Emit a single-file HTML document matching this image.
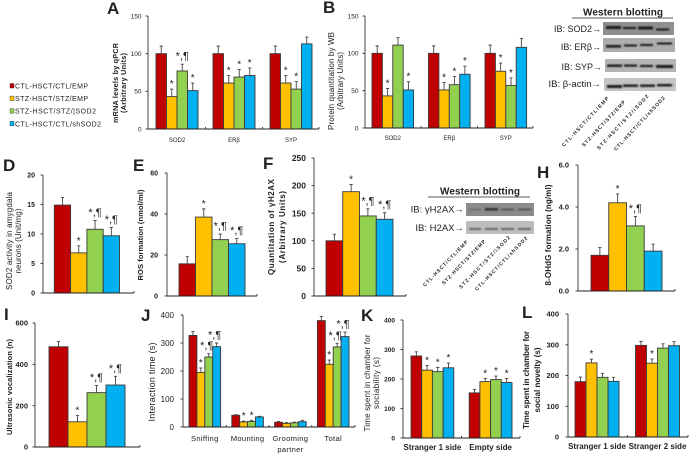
<!DOCTYPE html>
<html lang="en">
<head>
<meta charset="utf-8">
<title>Western blotting and behaviour bar charts</title>
<style>
html,body{margin:0;padding:0;background:#fff;}
#figure{display:block;width:690px;height:456px;filter:blur(0.35px);}
text{font-family:"Liberation Sans",Arial,sans-serif;fill:#222;}
</style>
</head>
<body>
<svg id="figure" xmlns="http://www.w3.org/2000/svg" width="690" height="456" viewBox="0 0 690 456">
  <defs>
    <filter id="bandBlur" x="-20%" y="-80%" width="140%" height="260%"><feGaussianBlur stdDeviation="0.7"/></filter>
  </defs>
  <g id="legend"></g>
  <g id="charts"></g>

  <g>
    <text x="583" y="15.500" font-size="10" font-weight="bold" textLength="80" fill="#111">Western blotting</text>
    <line x1="572" y1="18" x2="673" y2="18" stroke="#222" stroke-width="0.8"/>
    <text x="601" y="32" font-size="9" text-anchor="end" fill="#222">IB: SOD2→</text>
    <text x="601" y="50" font-size="9" text-anchor="end">IB: ERβ→</text>
    <text x="602" y="70" font-size="9" text-anchor="end">IB: SYP→</text>
    <text x="601" y="87" font-size="9.500" text-anchor="end">IB: β-actin→</text>
    <rect x="603" y="22" width="71" height="13" fill="#8f8f8f"/>
    <rect x="603" y="38" width="72" height="14" fill="#adadad"/>
    <rect x="605" y="59" width="71" height="13" fill="#b4b4b4"/>
    <rect x="604" y="78" width="72" height="13" fill="#c4c4c4"/>
    <g fill="#1c1c1c" filter="url(#bandBlur)">
      <rect x="606" y="26" width="15" height="3"/><rect x="623" y="27" width="13" height="2"/><rect x="638" y="26.500" width="15" height="3"/><rect x="656" y="28.500" width="13" height="2"/>
      <rect x="606" y="45" width="15" height="2.600"/><rect x="624" y="44.500" width="13" height="2"/><rect x="640" y="44" width="13" height="2"/><rect x="657" y="42.500" width="15" height="2"/>
      <rect x="607" y="64.500" width="15" height="2.400"/><rect x="624" y="64.500" width="13" height="2.200"/><rect x="640" y="65" width="13" height="2"/><rect x="656" y="65" width="17" height="3"/>
      <rect x="607" y="85" width="15" height="3"/><rect x="623" y="84.500" width="15" height="2.400"/><rect x="640" y="84.500" width="15" height="2.400"/><rect x="657" y="84" width="15" height="2.400"/>
    </g>
    <text transform="translate(564 147) rotate(-47)" font-size="5" font-weight="bold" fill="#5b3a1c" textLength="66">CTL-HSCT/CTL/EMP</text>
    <text transform="translate(584 147) rotate(-47)" font-size="5" font-weight="bold" fill="#5b3a1c" textLength="61">STZ-HSCT/STZ/EMP</text>
    <text transform="translate(599 150) rotate(-47)" font-size="5" font-weight="bold" fill="#5b3a1c" textLength="73">STZ-HSCT/STZ/iSOD2</text>
    <text transform="translate(616 151) rotate(-47)" font-size="5" font-weight="bold" fill="#5b3a1c" textLength="72">CTL-HSCT/CTL/shSOD2</text>
  </g>

  <g>
    <text x="440" y="194.500" font-size="10" font-weight="bold" textLength="80" fill="#111">Western blotting</text>
    <line x1="428" y1="197" x2="530" y2="197" stroke="#222" stroke-width="0.8"/>
    <text x="464" y="212.500" font-size="9.500" text-anchor="end">IB: γH2AX→</text>
    <text x="464" y="231" font-size="9.500" text-anchor="end">IB: H2AX→</text>
    <rect x="466" y="203" width="68" height="13" fill="#8b8b8b"/>
    <rect x="466" y="221" width="68" height="13" fill="#bdbdbd"/>
    <g fill="#333" filter="url(#bandBlur)">
      <rect x="469" y="209" width="12" height="1.500" fill="#666"/><rect x="485" y="208" width="13" height="2.600"/><rect x="501" y="208.500" width="13" height="2" fill="#555"/><rect x="518" y="208.500" width="13" height="2" fill="#555"/>
      <rect x="469" y="228" width="12" height="2" fill="#666"/><rect x="485" y="228" width="13" height="2" fill="#666"/><rect x="501" y="228" width="13" height="2" fill="#666"/><rect x="518" y="228" width="13" height="2" fill="#666"/>
    </g>
    <text transform="translate(425 287) rotate(-46)" font-size="5" font-weight="bold" fill="#5b3a1c" textLength="62">CTL-HSCT/CTL/EMP</text>
    <text transform="translate(444 285) rotate(-46)" font-size="5" font-weight="bold" fill="#5b3a1c" textLength="60">STZ-HSCT/STZ/EMP</text>
    <text transform="translate(461 289) rotate(-46)" font-size="5" font-weight="bold" fill="#5b3a1c" textLength="71">STZ-HSCT/STZ/iSOD2</text>
    <text transform="translate(477 291) rotate(-46)" font-size="5" font-weight="bold" fill="#5b3a1c" textLength="73">CTL-HSCT/CTL/shSOD2</text>
  </g>
</svg>

<script>
// Shared
const seriesColors = ['#c00000', '#ffc000', '#92d050', '#00b0f0'];
const legendLabels = ['CTL-HSCT/CTL/EMP', 'STZ-HSCT/STZ/EMP', 'STZ-HSCT/STZ/|SOD2', 'CTL-HSCT/CTL/shSOD2'];

// Panel A
const aCategories = ['SOD2', 'ERβ', 'SYP'];
const aTicks = [0, 50, 100, 150];
const aSod2 = [100, 43, 77, 51];
const aErb = [100, 61, 69, 71];
const aSyp = [100, 61, 53, 113];
const aSod2Err = [10, 10, 9, 10];
const aErbErr = [10, 10, 10, 10];
const aSypErr = [10, 10, 10, 9];
const aSod2Marks = ['', '*', '*,¶', '*'];
const aErbMarks = ['', '*', '*', '*'];
const aSypMarks = ['', '*', '*', ''];

// Panel B
const bCategories = ['SOD2', 'ERβ', 'SYP'];
const bTicks = [0, 50, 100, 150];
const bSod2 = [100, 43, 111, 51];
const bErb = [100, 51, 58, 72];
const bSyp = [100, 76, 57, 108];
const bSod2Err = [10, 10, 10, 11];
const bErbErr = [10, 10, 11, 11];
const bSypErr = [11, 11, 10, 12];
const bSod2Marks = ['', '*', '', '*'];
const bErbMarks = ['', '*', '*', '*'];
const bSypMarks = ['', '*', '*', ''];

// Panel D
const dTicks = [0, 5, 10, 15, 20];
const dValues = [14.9, 6.8, 10.8, 9.7];
const dErr = [1.3, 1.2, 1.5, 1.4];
const dMarks = ['', '*', '*,¶', '*,¶'];

// Panel E
const eTicks = [0, 20, 40, 60];
const eValues = [15.7, 38.5, 27.5, 25.5];
const eErr = [3.5, 4, 2.7, 2.5];
const eMarks = ['', '*', '*,¶', '*,¶'];

// Panel F
const fTicks = [0, 50, 100, 150, 200, 250];
const fValues = [100, 189, 145, 139];
const fErr = [12, 13, 13, 12];
const fMarks = ['', '*', '*,¶', '*,¶'];

// Panel H
const hTicks = ['0.0', '2.0', '4.0', '6.0'];
const hValues = [1.7, 4.2, 3.1, 1.9];
const hErr = [0.37, 0.42, 0.45, 0.33];
const hMarks = ['', '*', '*,¶', ''];

// Panel I
const iTicks = [0, 200, 400, 600];
const iValues = [485, 122, 263, 300];
const iErr = [25, 30, 35, 42];
const iMarks = ['', '*', '*,¶', '*,¶'];

// Panel J
const jCategories = ['Sniffing', 'Mounting', 'Grooming|partner', 'Total'];
const jTicks = [0, 100, 200, 300, 400];
const jSniffing = [327, 195, 250, 287];
const jMounting = [42, 18, 20, 36];
const jGrooming = [17, 13, 15, 19];
const jTotal = [380, 224, 286, 323];
const jSniffingErr = [14, 16, 12, 13];
const jMountingErr = [2, 3, 4, 2];
const jGroomingErr = [3, 3, 2, 5];
const jTotalErr = [15, 15, 13, 16];
const jSniffingMarks = ['', '*', '*,¶', '*,¶'];
const jMountingMarks = ['', '*', '*', ''];
const jGroomingMarks = ['', '', '', ''];
const jTotalMarks = ['', '*', '*,¶', '*,¶'];

// Panel K
const kCategories = ['Stranger 1 side', 'Empty side'];
const kTicks = [0, 100, 200, 300, 400];
const kStranger = [278, 230, 225, 238];
const kEmpty = [153, 191, 198, 188];
const kStrangerErr = [14, 16, 14, 16];
const kEmptyErr = [12, 11, 12, 14];
const kStrangerMarks = ['', '*', '*', '*'];
const kEmptyMarks = ['', '*', '*', '*'];

// Panel L
const lCategories = ['Stranger 1 side', 'Stranger 2 side'];
const lTicks = [0, 100, 200, 300, 400];
const lStranger1 = [180, 241, 194, 181];
const lStranger2 = [298, 240, 289, 297];
const lStranger1Err = [15, 12, 13, 13];
const lStranger2Err = [13, 14, 14, 13];
const lStranger1Marks = ['', '*', '', ''];
const lStranger2Marks = ['', '*', '', ''];

const NS = 'http://www.w3.org/2000/svg';
const chartsRoot = document.getElementById('charts');
const legendRoot = document.getElementById('legend');

function svgEl(tag, attrs, parent, text) {
  const el = document.createElementNS(NS, tag);
  for (const k in attrs) el.setAttribute(k, attrs[k]);
  if (text !== undefined) el.textContent = text;
  parent.appendChild(el);
  return el;
}

function drawPanel(p) {
  const root = svgEl('g', {}, chartsRoot);
  
  

  const letter = svgEl('text', {x: p.letter[0], y: p.letter[1], 'font-size': 17, 'font-weight': 'bold', fill: '#111'}, root, p.id);
  
  

  const ticks = p.ticks.map(Number);
  const yMax = Math.max.apply(null, ticks);
  const yScale = v => p.y0 - v / yMax * (p.y0 - p.yTop);
  const xBar = (g, s) => p.x0 + g * p.step + s * p.w;

  // bars, error bars and significance marks
  p.groups.forEach((vals, g) => {
    vals.forEach((v, s) => {
      const cx = xBar(g, s) + p.w / 2;
      const top = yScale(v + p.errs[g][s]);
      const err = svgEl('path', {d: 'M' + cx + ' ' + yScale(v) + 'V' + top + 'M' + (cx - 1.6) + ' ' + top + 'H' + (cx + 1.6), stroke: '#444', 'stroke-width': 0.9, fill: 'none'}, root);
      
      
      const bar = svgEl('rect', {x: xBar(g, s), y: yScale(v), width: p.w, height: p.y0 - yScale(v), fill: seriesColors[s], stroke: '#3a3a3a', 'stroke-width': 0.9}, root);
      
      
      const m = p.marks[g][s];
      if (m) {
        const single = m === '*';
        const mark = svgEl('text', {x: cx - (single ? 0 : (p.markDx || 0)), y: top - (single ? 2 : 4.5), 'font-size': single ? 10 : 11, 'text-anchor': 'middle', fill: '#222'}, root, m);
        
        
      }
    });
  });

  // axes
  const yAxis = svgEl('path', {d: 'M' + p.axisX + ' ' + yScale(yMax) + 'V' + p.y0, stroke: '#333', 'stroke-width': 0.9, fill: 'none'}, root);
  
  
  const xAxis = svgEl('path', {d: 'M' + p.axisX + ' ' + p.y0 + 'H' + p.axisEnd, stroke: '#222', 'stroke-width': 1, fill: 'none'}, root);
  
  

  p.ticks.forEach(t => {
    const y = yScale(Number(t));
    const tick = svgEl('path', {d: 'M' + (p.axisX - 2.500) + ' ' + y + 'H' + p.axisX, stroke: '#333', 'stroke-width': 0.9}, root);
    
    
    const lab = svgEl('text', {x: p.axisX - p.tickGap, y: y + p.tickFont * 0.36, 'font-size': p.tickFont, 'font-weight': p.tickWeight, 'font-family': p.tickSerif ? '"Liberation Serif", serif' : '"Liberation Sans", sans-serif', 'text-anchor': 'end', fill: '#222'}, root, t);
    
    
  });

  // group separators and x labels
  const gw = p.w * 4;
  p.groups.forEach((vals, g) => {
    const sepX = g === p.groups.length - 1 ? p.axisEnd : (xBar(g, 4) + xBar(g + 1, 0)) / 2;
    const sep = svgEl('path', {d: 'M' + sepX + ' ' + p.y0 + 'v-2', stroke: '#333', 'stroke-width': 0.9}, root);
    
    
    if (p.cats) {
      p.cats[g].split('|').forEach((line, i) => {
        const lab = svgEl('text', {x: xBar(g, 0) + gw / 2, y: p.catY + i * p.catLine, 'font-size': p.catFont, 'font-weight': p.catWeight, 'text-anchor': 'middle', fill: '#222', 'letter-spacing': p.catSpacing || 0}, root, line);
        
        
      });
    }
  });

  // y title
  p.title.forEach((line, i) => {
    const t = svgEl('text', {transform: 'translate(' + p.titleX[i] + ' ' + p.titleY + ') rotate(-90)', 'font-size': p.titleFont, 'font-weight': p.titleWeight, 'text-anchor': 'middle', fill: '#111', textLength: p.titleLen[i]}, root, line);
    
    
  });
}

// Legend
legendLabels.forEach((label, i) => {
  const y = 86 + i * 12.6;
  const swatch = svgEl('rect', {x: 10, y: y - 2.500, width: 4, height: 4.500, fill: seriesColors[i], stroke: '#333', 'stroke-width': 0.4}, legendRoot);
  
  
  const t = svgEl('text', {x: 15, y: y + 2.500, 'font-size': 7, fill: '#111', textLength: [73, 73, 81, 86][i]}, legendRoot, label);
  
  
});

drawPanel({id: 'A', letter: [107, 14], cats: aCategories, groups: [aSod2, aErb, aSyp], errs: [aSod2Err, aErbErr, aSypErr], marks: [aSod2Marks, aErbMarks, aSypMarks], ticks: aTicks,
  x0: 156, step: 57, w: 10.5, y0: 129, yTop: 16, axisX: 148, axisEnd: 319, tickFont: 6.5, tickWeight: 'normal', tickGap: 6.5, catY: 142, catLine: 0, catFont: 6, catWeight: 'normal',
  title: ['mRNA levels by qPCR', '(Arbitrary Units)'], titleLen: [80, 60], titleX: [118, 126], titleY: 83, titleFont: 7.2, titleWeight: 'bold'});

drawPanel({id: 'B', letter: [323, 13], cats: bCategories, groups: [bSod2, bErb, bSyp], errs: [bSod2Err, bErbErr, bSypErr], marks: [bSod2Marks, bErbMarks, bSypMarks], ticks: bTicks,
  x0: 372, step: 56.5, w: 10.400, y0: 128, yTop: 16, axisX: 365, axisEnd: 533, tickFont: 6.5, tickWeight: 'normal', tickGap: 6.5, catY: 140, catLine: 0, catFont: 6, catWeight: 'normal',
  title: ['Protein quantitation by WB', '(Arbitrary Units)'], titleLen: [98, 58], titleX: [334, 343], titleY: 81, titleFont: 8, titleWeight: 'normal'});

drawPanel({id: 'D', letter: [3, 171], groups: [dValues], errs: [dErr], marks: [dMarks], ticks: dTicks,
  x0: 54.300, step: 0, w: 16.300, y0: 293, yTop: 175, axisX: 43, axisEnd: 134, tickFont: 7, tickWeight: 'bold', tickGap: 8,
  title: ['SOD2 activity in amygdala', 'neurons (Unit/mg)'], titleLen: [98, 65], titleX: [12, 21], titleY: 241, titleFont: 8, titleWeight: 'normal'});

drawPanel({id: 'E', letter: [133, 171], groups: [eValues], errs: [eErr], marks: [eMarks], ticks: eTicks,
  x0: 179, step: 0, w: 16.500, y0: 296, yTop: 173, axisX: 167, axisEnd: 257, tickFont: 7, tickWeight: 'bold', tickGap: 9,
  title: ['ROS formation (nmol/ml)'], titleLen: [91], titleX: [143], titleY: 235, titleFont: 7.5, titleWeight: 'bold'});

drawPanel({id: 'F', letter: [263, 169], groups: [fValues], errs: [fErr], marks: [fMarks], ticks: fTicks,
  x0: 326, step: 0, w: 16.750, y0: 296, yTop: 158, axisX: 314, axisEnd: 406, tickFont: 8.5, tickWeight: 'bold', tickGap: 8,
  title: ['Quantitation of γH2AX', '(Arbitrary Units)'], titleLen: [96, 72], titleX: [274, 285], titleY: 227, titleFont: 8, titleWeight: 'bold'});

drawPanel({id: 'H', letter: [537, 178], groups: [hValues], errs: [hErr], marks: [hMarks], ticks: hTicks,
  x0: 591, step: 0, w: 17.750, y0: 291, yTop: 165, axisX: 578, axisEnd: 675, tickFont: 7.5, tickWeight: 'bold', tickSerif: true, tickGap: 9,
  title: ['8-OHdG formation (ng/ml)'], titleLen: [101], titleX: [551], titleY: 235, titleFont: 8, titleWeight: 'bold'});

drawPanel({id: 'I', letter: [4, 320], groups: [iValues], errs: [iErr], marks: [iMarks], ticks: iTicks,
  x0: 49, step: 0, w: 19, y0: 447, yTop: 323, axisX: 35, axisEnd: 140, tickFont: 7.5, tickWeight: 'bold', tickGap: 7,
  title: ['Ultrasonic vocalization (n)'], titleLen: [96], titleX: [12], titleY: 387, titleFont: 7.5, titleWeight: 'bold'});

drawPanel({id: 'J', letter: [141, 321], cats: jCategories, groups: [jSniffing, jMounting, jGrooming, jTotal], errs: [jSniffingErr, jMountingErr, jGroomingErr, jTotalErr], marks: [jSniffingMarks, jMountingMarks, jGroomingMarks, jTotalMarks], ticks: jTicks, markDx: 2,
  x0: 189, step: 42.8, w: 7.9, y0: 427, yTop: 315, axisX: 183, axisEnd: 355, tickFont: 8, tickWeight: 'normal', tickGap: 9, catY: 441, catLine: 11, catFont: 7.6, catWeight: 'normal', catSpacing: 0.3,
  title: ['Interaction time (s)'], titleLen: [79], titleX: [155], titleY: 382, titleFont: 9, titleWeight: 'normal'});

drawPanel({id: 'K', letter: [361, 321], cats: kCategories, groups: [kStranger, kEmpty], errs: [kStrangerErr, kEmptyErr], marks: [kStrangerMarks, kEmptyMarks], ticks: kTicks,
  x0: 411, step: 58.2, w: 10.7, y0: 438, yTop: 320, axisX: 403, axisEnd: 520, tickFont: 6.5, tickWeight: 'bold', tickGap: 8, catY: 450, catLine: 0, catFont: 8, catWeight: 'bold',
  title: ['Time spent in chamber for', 'sociability (s)'], titleLen: [97, 52], titleX: [370, 379], titleY: 383, titleFont: 8, titleWeight: 'normal'});

drawPanel({id: 'L', letter: [522, 318], cats: lCategories, groups: [lStranger1, lStranger2], errs: [lStranger1Err, lStranger2Err], marks: [lStranger1Marks, lStranger2Marks], ticks: lTicks,
  x0: 575, step: 60.500, w: 11, y0: 437, yTop: 314, axisX: 568, axisEnd: 688, tickFont: 7.5, tickWeight: 'bold', tickGap: 9, catY: 449, catLine: 0, catFont: 8, catWeight: 'bold',
  title: ['Time spent in chamber for', 'social novelty (s)'], titleLen: [98, 65], titleX: [529, 540], titleY: 380, titleFont: 8, titleWeight: 'bold'});
</script>
</body>
</html>
